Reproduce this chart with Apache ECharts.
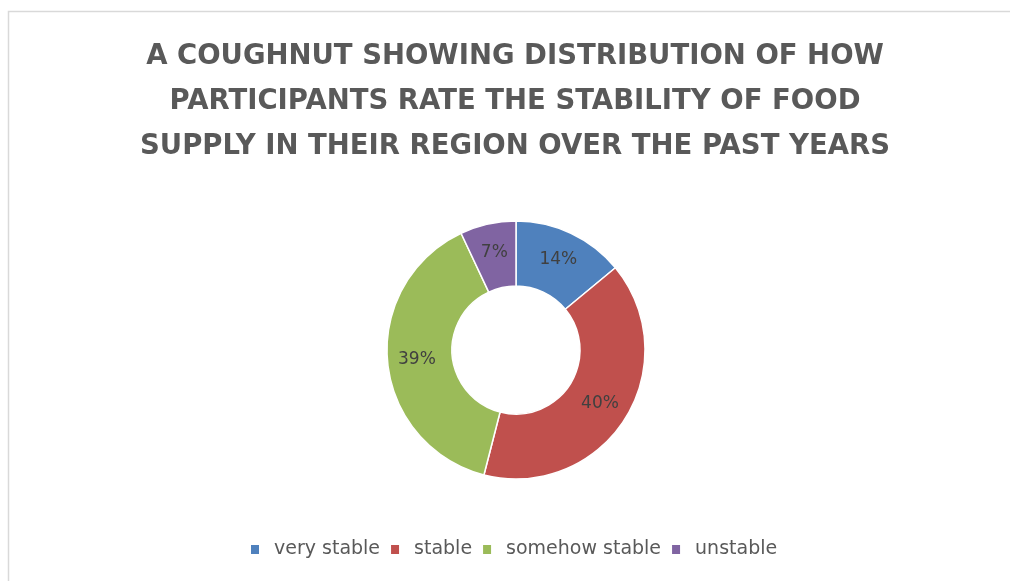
<!DOCTYPE html>
<html>
<head>
<meta charset="utf-8">
<title>Food supply stability</title>
<script src="https://cdn.jsdelivr.net/npm/echarts@6/dist/echarts.min.js"></script>
<style>
  html, body { margin: 0; padding: 0; background: #ffffff; }
  #chart { width: 1010px; height: 581px; }
</style>
</head>
<body>
<div id="chart"></div>
<script>
// Ratings of food supply stability and their share of participants (%)
const categories = ['very stable', 'stable', 'somehow stable', 'unstable'];
const shares = [14, 40, 39, 7];
const colors = ['#4F81BD', '#C0504D', '#9BBB59', '#8064A2'];
const titleText = 'A COUGHNUT SHOWING DISTRIBUTION OF HOW\nPARTICIPANTS RATE THE STABILITY OF FOOD\nSUPPLY IN THEIR REGION OVER THE PAST YEARS';

const chart = echarts.init(document.getElementById('chart'), null, { renderer: 'canvas' });

chart.setOption({
  backgroundColor: '#ffffff',
  color: colors,
  animation: false,
  graphic: [{
    // chart-area frame
    type: 'rect',
    shape: { x: 8.5, y: 11.5, width: 1100, height: 700 },
    style: { fill: 'none', stroke: '#d9d9d9', lineWidth: 1.5 },
    silent: true
  }, {
    // three-line heading, centred over the ring
    type: 'text',
    silent: true,
    style: {
      text: titleText,
      x: 515,
      y: 34,
      align: 'center',
      verticalAlign: 'top',
      fontFamily: 'DejaVu Sans',
      fontWeight: 'bold',
      fontSize: 27.5,
      lineHeight: 45,
      fill: '#595959'
    }
  }],
  legend: {
    bottom: 17,
    left: 246,
    itemWidth: 8,
    itemHeight: 9,
    itemGap: 11,
    icon: 'rect',
    itemStyle: { borderWidth: 0 },
    textStyle: { fontFamily: 'DejaVu Sans', fontSize: 19, color: '#595959', padding: [0, 0, 0, 10] },
    data: categories
  },
  series: [{
    type: 'pie',
    center: [516, 350],
    radius: [64, 129],
    startAngle: 90,
    clockwise: true,
    avoidLabelOverlap: false,
    itemStyle: { borderColor: '#ffffff', borderWidth: 1.5 },
    label: {
      show: true,
      position: 'inside',
      formatter: '{c}%',
      fontFamily: 'DejaVu Sans',
      fontSize: 17,
      color: '#404040'
    },
    labelLine: { show: false },
    emphasis: { disabled: true },
    data: categories.map((name, i) => ({ name: name, value: shares[i] }))
  }]
});
</script>
</body>
</html>
